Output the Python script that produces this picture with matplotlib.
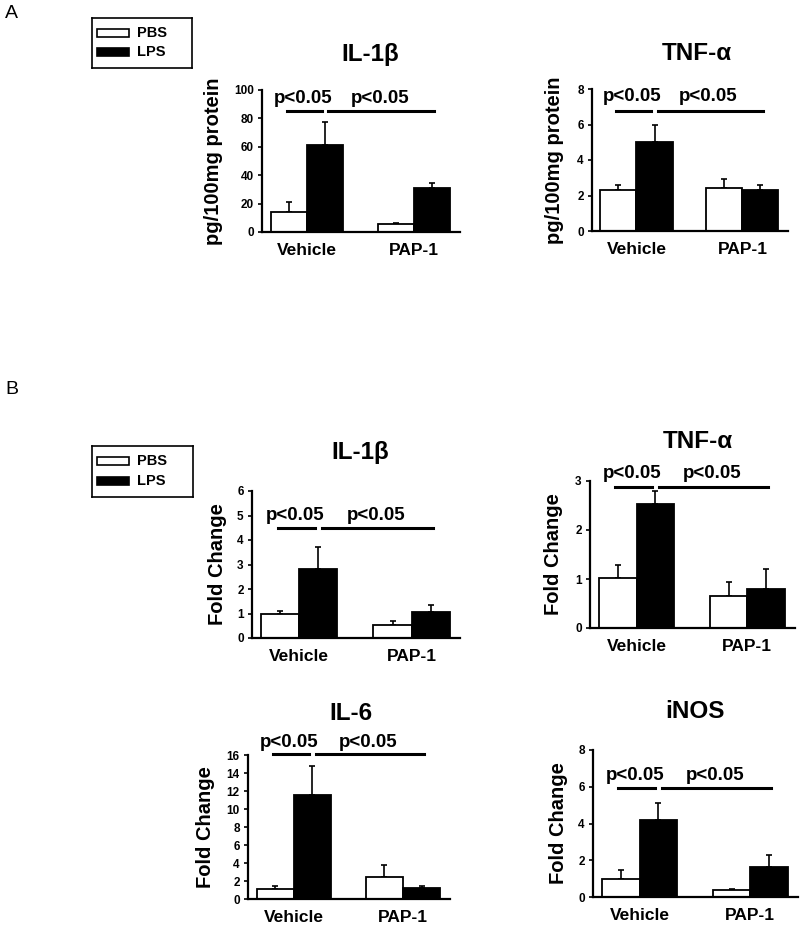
import numpy as np
import matplotlib.pyplot as plt
from matplotlib.patches import Rectangle

plt.rcParams['font.family'] = ['Liberation Sans', 'DejaVu Sans']

# Data
groups = ["Vehicle", "PAP-1"]

# A: protein, pg/100mg protein
a_il1b_pbs = [13.9, 5.4]
a_il1b_pbs_err = [7.4, 1.2]
a_il1b_lps = [61.3, 30.9]
a_il1b_lps_err = [16.4, 3.6]

a_tnf_pbs = [2.3, 2.4]
a_tnf_pbs_err = [0.3, 0.55]
a_tnf_lps = [5.0, 2.3]
a_tnf_lps_err = [0.95, 0.3]

# B: mRNA, fold change
b_il1b_pbs = [1.0, 0.55]
b_il1b_pbs_err = [0.1, 0.13]
b_il1b_lps = [2.8, 1.07]
b_il1b_lps_err = [0.93, 0.28]

b_tnf_pbs = [1.02, 0.65]
b_tnf_pbs_err = [0.27, 0.28]
b_tnf_lps = [2.53, 0.79]
b_tnf_lps_err = [0.26, 0.41]

b_il6_pbs = [1.07, 2.48]
b_il6_pbs_err = [0.37, 1.3]
b_il6_lps = [11.6, 1.19]
b_il6_lps_err = [3.2, 0.25]

b_inos_pbs = [0.96, 0.4]
b_inos_pbs_err = [0.53, 0.05]
b_inos_lps = [4.18, 1.64]
b_inos_lps_err = [0.91, 0.63]

W, H = 800, 925
fig = plt.figure(figsize=(W / 100, H / 100), dpi=100)


def px_axes(left, top, right, bottom):
    return fig.add_axes([left / W, 1 - bottom / H, (right - left) / W, (bottom - top) / H])


def panel(box, pbs, pbs_err, lps, lps_err, ymax, step, ylabel, label_off,
          title, title_xy, line_y, text_y):
    ax = px_axes(*box)
    x = np.arange(len(groups))
    w = 0.34
    ax.bar(x - w / 2, pbs, w, color='white', edgecolor='black', linewidth=1.3, zorder=2)
    ax.bar(x + w / 2, lps, w, color='black', edgecolor='black', linewidth=1.3, zorder=2)
    ax.errorbar(x - w / 2, pbs, yerr=[np.zeros(len(pbs)), pbs_err], fmt='none',
                ecolor='black', elinewidth=1.2, capsize=2.5, capthick=1.2, zorder=1)
    ax.errorbar(x + w / 2, lps, yerr=[np.zeros(len(lps)), lps_err], fmt='none',
                ecolor='black', elinewidth=1.2, capsize=2.5, capthick=1.2, zorder=1)
    ax.set_xlim(-0.42, 1.43)
    ax.set_ylim(0, ymax)
    ax.set_yticks(np.arange(0, ymax + step / 2, step))
    ax.set_xticks(x)
    ax.set_xticklabels(groups, fontsize=12.5, fontweight='bold')
    for t in ax.get_yticklabels():
        t.set_fontweight('bold')
        t.set_fontsize(8.5)
    ax.tick_params(axis='x', length=0, pad=8)
    ax.tick_params(axis='y', length=3, width=1.2, pad=3)
    for s in ['top', 'right']:
        ax.spines[s].set_visible(False)
    for s in ['left', 'bottom']:
        ax.spines[s].set_linewidth(1.6)
    ax.set_ylabel(ylabel, fontsize=14.5, fontweight='bold')
    ax.yaxis.set_label_coords(-label_off / (box[2] - box[0]), 0.5)
    # significance lines
    ax.plot([-0.19, 0.14], [line_y, line_y], color='black', lw=2.2, clip_on=False)
    ax.plot([0.2, 1.19], [line_y, line_y], color='black', lw=2.2, clip_on=False)
    ax.text(-0.04, text_y, "p<0.05", ha='center', va='center', fontsize=13.5,
            fontweight='bold', clip_on=False)
    ax.text(0.68, text_y, "p<0.05", ha='center', va='center', fontsize=13.5,
            fontweight='bold', clip_on=False)
    fig.text(title_xy[0] / W, 1 - title_xy[1] / H, title, ha='center', va='center',
             fontsize=17.5, fontweight='bold')
    return ax


def legend_box(left, top, right, bottom):
    lax = px_axes(left, top, right, bottom)
    lax.set_xlim(0, right - left)
    lax.set_ylim(bottom - top, 0)
    lax.set_xticks([])
    lax.set_yticks([])
    for s in lax.spines.values():
        s.set_linewidth(1.2)
    h = bottom - top
    for yc, fc, lab in [(h * 0.3, 'white', 'PBS'), (h * 0.68, 'black', 'LPS')]:
        lax.add_patch(Rectangle((5, yc - 4), 32, 8, facecolor=fc, edgecolor='black', lw=1.2))
        lax.text(45, yc, lab, va='center', ha='left', fontsize=10.5, fontweight='bold')


fig.text(5 / W, 1 - 13 / H, "A", fontsize=14, va='center', ha='left')
fig.text(5 / W, 1 - 390 / H, "B", fontsize=14, va='center', ha='left')

legend_box(92, 18, 192, 68)
legend_box(92, 446, 193, 497)

panel((262, 90, 460, 232), a_il1b_pbs, a_il1b_pbs_err, a_il1b_lps, a_il1b_lps_err,
      100, 20, "pg/100mg protein", 39, "IL-1β", (370, 54), 85, 94)
panel((592, 89, 788, 231), a_tnf_pbs, a_tnf_pbs_err, a_tnf_lps, a_tnf_lps_err,
      8, 2, "pg/100mg protein", 28, "TNF-α", (697, 54), 6.76, 7.6)
panel((252, 491, 460, 638), b_il1b_pbs, b_il1b_pbs_err, b_il1b_lps, b_il1b_lps_err,
      6, 1, "Fold Change", 25, "IL-1β", (360, 452), 4.5, 5.0)
panel((590, 481, 795, 628), b_tnf_pbs, b_tnf_pbs_err, b_tnf_lps, b_tnf_lps_err,
      3, 1, "Fold Change", 27, "TNF-α", (698, 441), 2.88, 3.15)
panel((248, 755, 450, 899), b_il6_pbs, b_il6_pbs_err, b_il6_lps, b_il6_lps_err,
      16, 2, "Fold Change", 33, "IL-6", (351, 714), 16.08, 17.4)
panel((593, 750, 798, 897), b_inos_pbs, b_inos_pbs_err, b_inos_lps, b_inos_lps_err,
      8, 2, "Fold Change", 25, "iNOS", (695, 711), 5.91, 6.6)

fig.savefig("out.png", dpi=100)
